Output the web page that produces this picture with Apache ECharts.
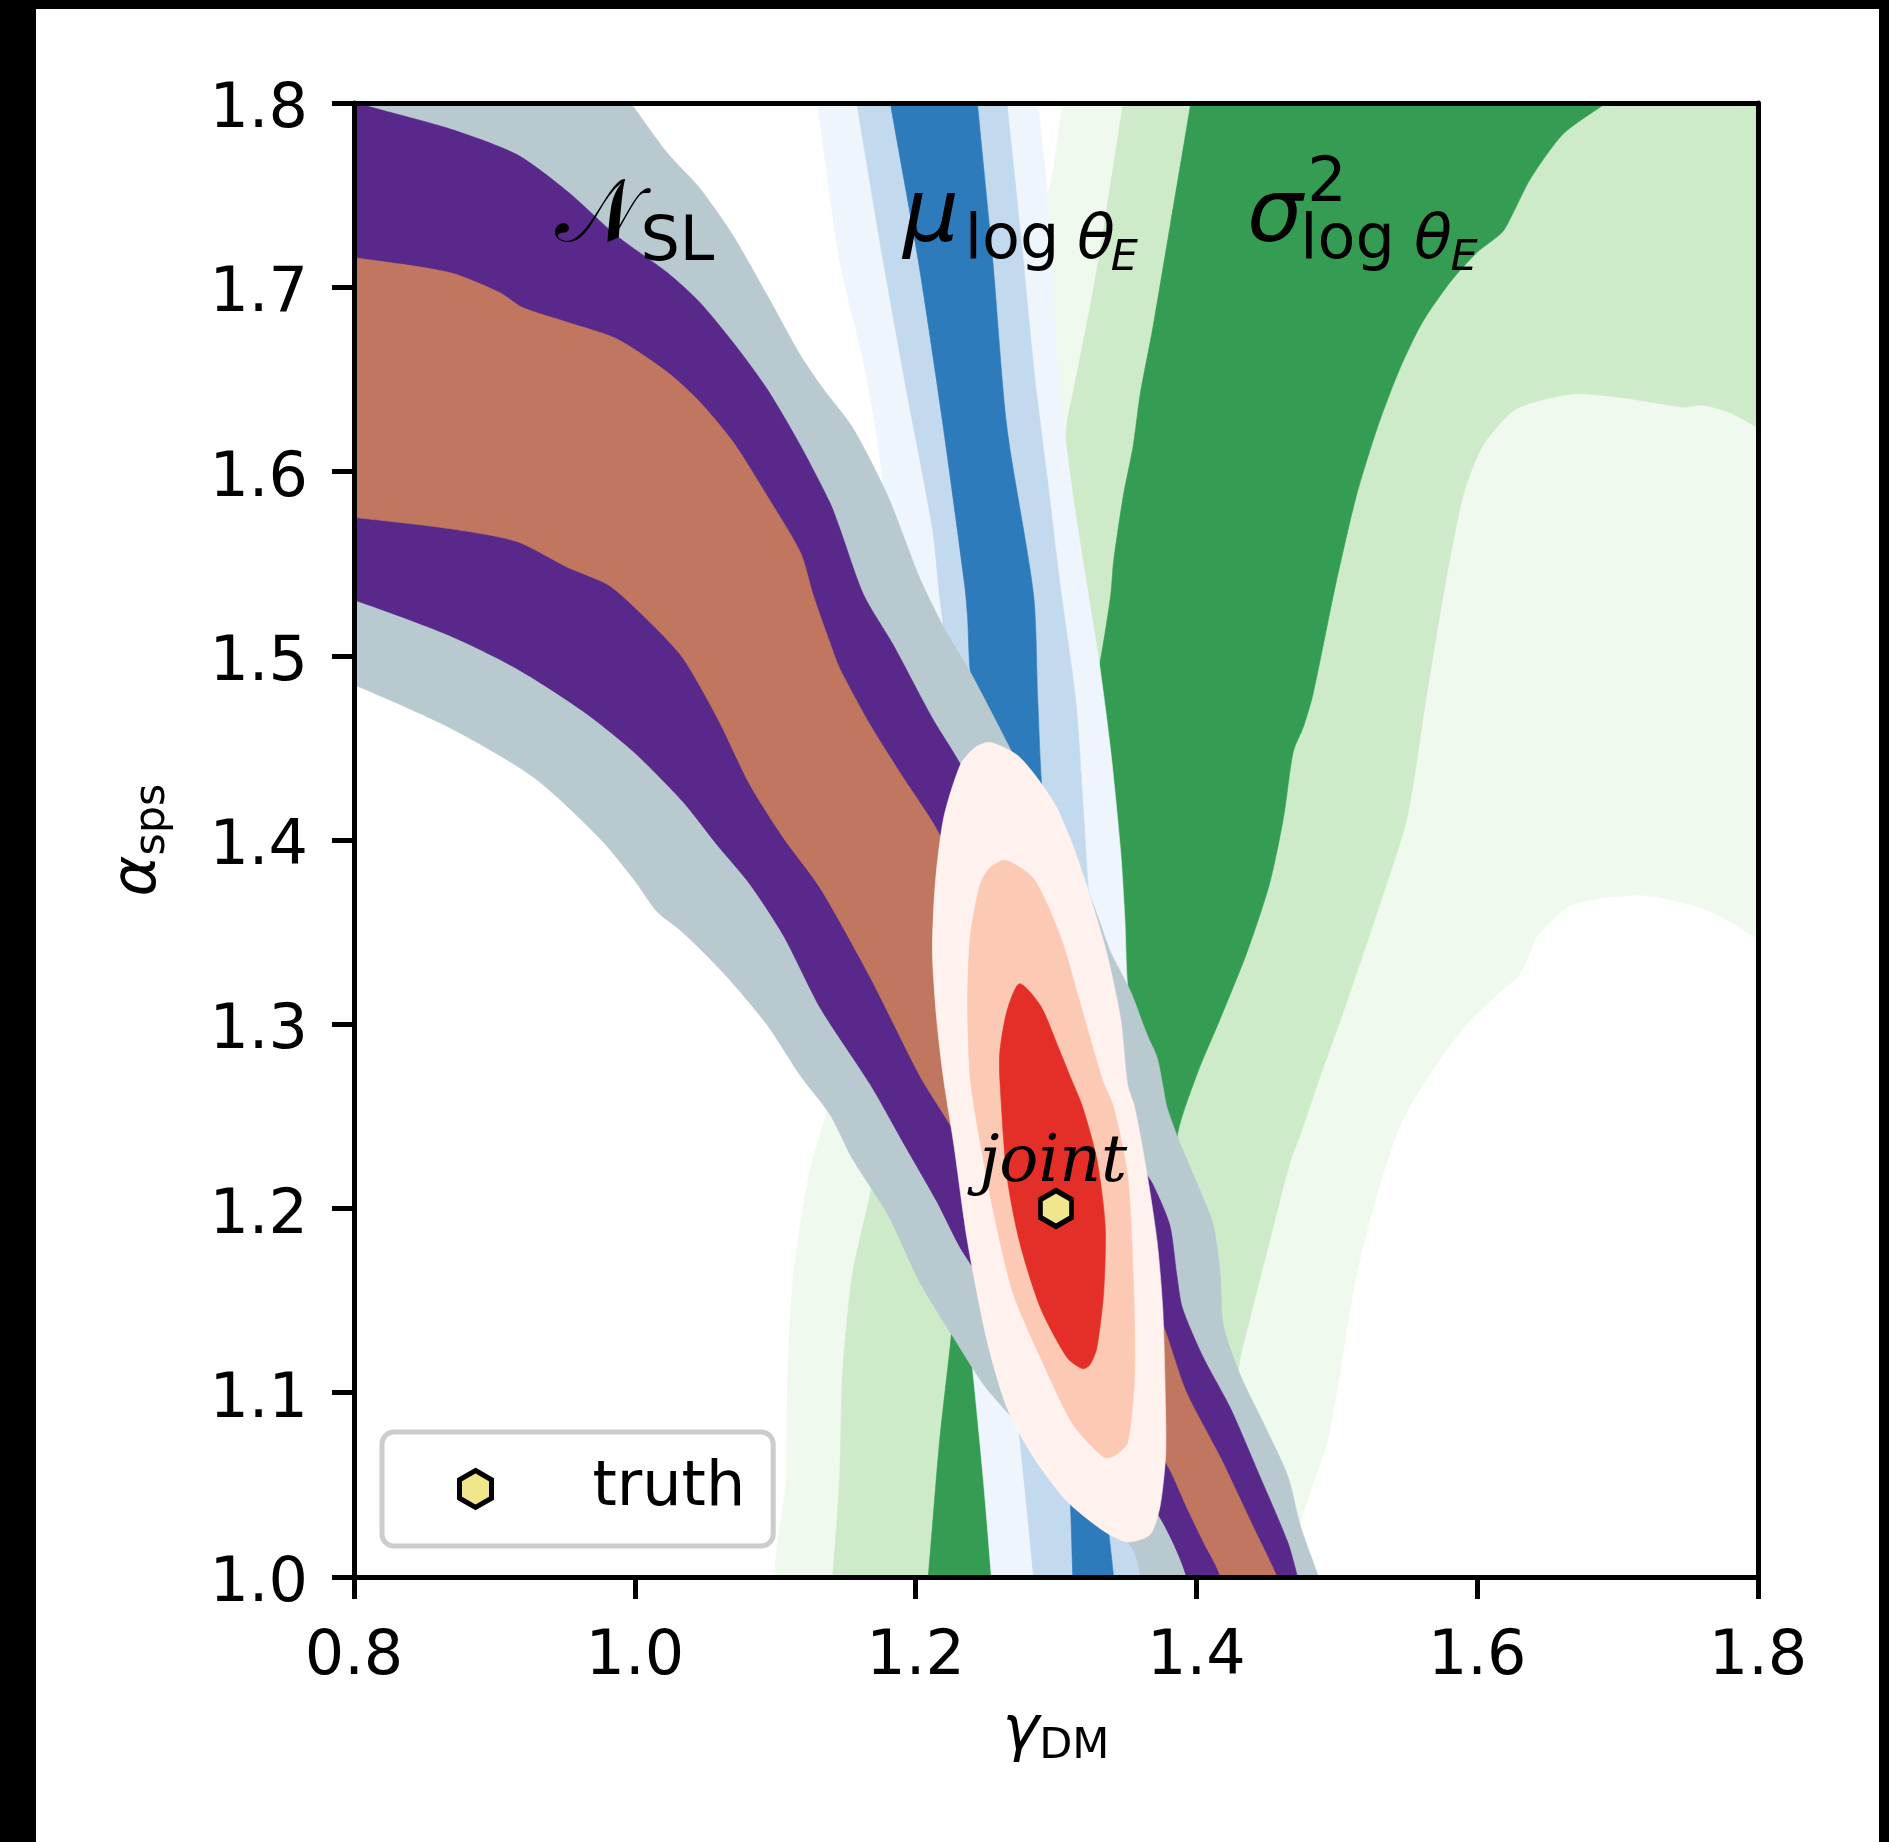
<!DOCTYPE html>
<html><head><meta charset="utf-8">
<script src="https://cdn.jsdelivr.net/npm/echarts@6/dist/echarts.min.js"></script>
<style>
html,body{margin:0;padding:0;background:#000;width:1889px;height:1842px;overflow:hidden;}
#chart{position:absolute;left:36px;top:9px;width:1843px;height:1833px;background:#fff;}
</style></head><body><div id="chart"></div>
<script>
// ---- axis ranges / ticks ----
const X_RANGE = [0.8, 1.8], X_STEP = 0.2;
const Y_RANGE = [1.0, 1.8], Y_STEP = 0.1;

// ---- sigma^2 log theta_E contours (greens) ----
const G1 = [[1.309,1.812],[1.305,1.800],[1.294,1.750],[1.260,1.693],[1.217,1.612],[1.189,1.530],[1.162,1.422],[1.149,1.340],[1.138,1.258],[1.124,1.218],[1.113,1.164],[1.109,1.110],[1.108,1.055],[1.108,0.988],
[1.470,0.988],[1.474,1.028],[1.481,1.046],[1.493,1.073],[1.502,1.110],[1.514,1.164],[1.529,1.209],[1.545,1.245],[1.561,1.267],[1.590,1.298],[1.614,1.316],[1.631,1.328],[1.643,1.348],[1.668,1.365],[1.718,1.370],[1.764,1.362],[1.799,1.347],[1.823,1.335],[1.823,1.812]];
const G2 = [[1.351,1.812],[1.348,1.800],[1.334,1.732],[1.326,1.696],[1.312,1.642],[1.308,1.627],[1.303,1.585],[1.289,1.503],[1.246,1.395],[1.189,1.286],[1.175,1.243],[1.168,1.209],[1.155,1.164],[1.148,1.110],[1.146,1.055],[1.141,1.000],[1.139,0.988],
[1.403,0.988],[1.431,1.118],[1.438,1.140],[1.452,1.182],[1.467,1.226],[1.474,1.240],[1.486,1.267],[1.507,1.312],[1.531,1.366],[1.550,1.412],[1.564,1.479],[1.577,1.538],[1.590,1.587],[1.604,1.614],[1.628,1.634],[1.668,1.642],[1.704,1.640],[1.747,1.635],[1.761,1.636],[1.780,1.632],[1.799,1.624],[1.823,1.612],[1.823,1.812]];
const G3 = [[1.398,1.812],[1.396,1.800],[1.381,1.732],[1.369,1.678],[1.360,1.642],[1.355,1.614],[1.348,1.587],[1.341,1.551],[1.339,1.533],[1.331,1.495],[1.310,1.422],[1.274,1.340],[1.242,1.232],[1.228,1.156],[1.225,1.128],[1.217,1.073],[1.209,1.000],[1.207,0.988],
[1.367,0.988],[1.388,1.150],[1.386,1.237],[1.400,1.272],[1.417,1.303],[1.436,1.339],[1.452,1.376],[1.462,1.412],[1.469,1.448],[1.476,1.461],[1.483,1.479],[1.499,1.538],[1.514,1.587],[1.529,1.624],[1.545,1.656],[1.561,1.681],[1.581,1.703],[1.600,1.719],[1.618,1.730],[1.626,1.741],[1.638,1.759],[1.661,1.783],[1.688,1.798],[1.716,1.812]];

// ---- mu log theta_E contours (blues) ----
const B1 = [[1.127,1.812],[1.130,1.800],[1.146,1.714],[1.163,1.659],[1.175,1.605],[1.241,1.110],[1.248,1.055],[1.254,1.000],[1.255,0.988],
[1.383,0.988],[1.374,1.150],[1.360,1.267],[1.351,1.321],[1.349,1.358],[1.346,1.394],[1.339,1.448],[1.331,1.495],[1.322,1.538],[1.312,1.587],[1.303,1.642],[1.298,1.696],[1.294,1.750],[1.287,1.800],[1.284,1.812]];
const B2 = [[1.155,1.812],[1.158,1.800],[1.177,1.714],[1.194,1.642],[1.212,1.569],[1.217,1.533],[1.219,1.521],[1.274,1.077],[1.284,1.000],[1.284,0.988],
[1.365,0.988],[1.356,1.150],[1.329,1.313],[1.323,1.373],[1.319,1.422],[1.314,1.476],[1.303,1.538],[1.294,1.595],[1.285,1.650],[1.276,1.720],[1.265,1.800],[1.263,1.812]];
const B3 = [[1.180,1.812],[1.182,1.800],[1.202,1.714],[1.219,1.628],[1.235,1.538],[1.237,1.521],[1.239,1.491],[1.303,1.096],[1.310,1.042],[1.312,1.000],[1.313,0.988],
[1.341,0.988],[1.341,1.000],[1.331,1.069],[1.290,1.428],[1.287,1.476],[1.284,1.533],[1.265,1.624],[1.255,1.714],[1.244,1.800],[1.243,1.812]];

// ---- N_SL contours ----
const N1 = [[0.762,1.823],[0.986,1.812],[0.999,1.798],[1.023,1.773],[1.046,1.754],[1.070,1.728],[1.094,1.696],[1.118,1.663],[1.135,1.644],[1.155,1.624],[1.180,1.587],[1.203,1.542],[1.221,1.514],[1.239,1.491],[1.265,1.453],[1.289,1.416],[1.310,1.389],[1.324,1.370],[1.339,1.339],[1.353,1.318],[1.365,1.294],[1.372,1.282],[1.376,1.267],[1.379,1.255],[1.388,1.236],[1.403,1.209],[1.412,1.191],[1.417,1.164],[1.419,1.137],[1.431,1.110],[1.448,1.083],[1.465,1.055],[1.474,1.028],[1.487,1.000],[1.492,0.988],
[1.356,0.988],[1.360,1.000],[1.353,1.017],[1.253,1.100],[1.227,1.130],[1.203,1.160],[1.180,1.197],[1.155,1.227],[1.139,1.251],[1.118,1.272],[1.094,1.300],[1.063,1.328],[1.034,1.350],[1.016,1.361],[0.999,1.379],[0.975,1.401],[0.928,1.434],[0.868,1.461],[0.801,1.484],[0.762,1.495]];
const N2 = [[0.762,1.810],[0.790,1.803],[0.811,1.798],[0.868,1.786],[0.916,1.772],[0.952,1.752],[0.987,1.728],[1.023,1.708],[1.046,1.692],[1.070,1.670],[1.094,1.645],[1.118,1.614],[1.139,1.583],[1.146,1.569],[1.163,1.533],[1.184,1.506],[1.212,1.466],[1.232,1.441],[1.274,1.378],[1.317,1.313],[1.346,1.259],[1.358,1.227],[1.369,1.213],[1.381,1.191],[1.386,1.164],[1.390,1.146],[1.405,1.119],[1.424,1.092],[1.445,1.055],[1.465,1.019],[1.472,1.000],[1.475,0.988],
[1.388,0.988],[1.393,1.000],[1.371,1.036],[1.296,1.107],[1.234,1.176],[1.215,1.204],[1.191,1.236],[1.168,1.267],[1.132,1.309],[1.106,1.348],[1.082,1.376],[1.059,1.397],[1.034,1.421],[0.999,1.448],[0.963,1.470],[0.916,1.493],[0.868,1.511],[0.801,1.530],[0.762,1.538]];
const N3 = [[0.762,1.720],[0.801,1.716],[0.868,1.708],[0.904,1.697],[0.920,1.689],[0.952,1.681],[0.987,1.672],[1.023,1.654],[1.046,1.638],[1.070,1.616],[1.094,1.587],[1.118,1.556],[1.127,1.533],[1.139,1.507],[1.146,1.493],[1.168,1.462],[1.191,1.434],[1.217,1.403],[1.296,1.270],[1.360,1.167],[1.372,1.146],[1.379,1.131],[1.393,1.100],[1.417,1.065],[1.440,1.028],[1.457,1.001],[1.463,0.988],
[1.413,0.988],[1.417,1.000],[1.405,1.019],[1.393,1.038],[1.379,1.061],[1.303,1.150],[1.220,1.251],[1.203,1.272],[1.168,1.325],[1.132,1.374],[1.106,1.401],[1.082,1.430],[1.059,1.466],[1.034,1.499],[1.011,1.518],[0.982,1.538],[0.952,1.548],[0.916,1.562],[0.868,1.569],[0.801,1.575],[0.762,1.578]];

// ---- joint contours (reds) ----
const J1 = [[1.253,1.453],[1.274,1.445],[1.298,1.421],[1.312,1.397],[1.324,1.370],[1.336,1.339],[1.346,1.303],[1.351,1.267],[1.356,1.255],[1.365,1.218],[1.372,1.182],[1.376,1.146],[1.378,1.092],[1.378,1.065],[1.374,1.038],[1.367,1.023],[1.351,1.019],[1.334,1.025],[1.308,1.041],[1.284,1.065],[1.265,1.092],[1.251,1.128],[1.237,1.182],[1.227,1.236],[1.220,1.270],[1.215,1.303],[1.212,1.339],[1.214,1.376],[1.220,1.412],[1.232,1.441],[1.242,1.450]];
const J2 = [[1.264,1.389],[1.284,1.379],[1.303,1.348],[1.317,1.312],[1.333,1.270],[1.341,1.255],[1.351,1.218],[1.355,1.164],[1.356,1.110],[1.351,1.073],[1.342,1.066],[1.334,1.065],[1.312,1.083],[1.289,1.119],[1.269,1.155],[1.255,1.200],[1.246,1.236],[1.239,1.270],[1.237,1.312],[1.239,1.348],[1.246,1.376],[1.253,1.385]];
const J3 = [[1.274,1.322],[1.289,1.310],[1.303,1.285],[1.311,1.270],[1.319,1.255],[1.329,1.227],[1.335,1.191],[1.334,1.155],[1.329,1.124],[1.324,1.115],[1.319,1.113],[1.308,1.119],[1.289,1.146],[1.274,1.182],[1.265,1.218],[1.260,1.270],[1.260,1.285],[1.265,1.307]];

// ---- truth point ----
const TRUTH = [[1.3, 1.2]];

// ---- text annotations: [x, y (baseline), text, role] ----
const ANNOT = [
  [0.943,1.722,'𝒩','cal'],
  [1.004,1.713,'SL','sub'],
  [1.191,1.722,'μ','main'],
  [1.235,1.714,'log','sub'],
  [1.315,1.714,'θ','subIt'],
  [1.339,1.708,'E','subsub'],
  [1.436,1.722,'σ','main'],
  [1.479,1.745,'2','sub'],
  [1.474,1.714,'log','sub'],
  [1.555,1.714,'θ','subIt'],
  [1.581,1.708,'E','subsub'],
  [1.298,1.213,'joint','joint']
];

const FONT = 'DejaVu Sans';
const ROLES = {
  cal:{size:88, style:'normal', family:FONT},
  main:{size:88, style:'italic', family:FONT},
  sub:{size:62, style:'normal', family:FONT},
  subIt:{size:62, style:'italic', family:FONT},
  subsub:{size:43, style:'italic', family:FONT},
  joint:{size:65, style:'italic', family:'DejaVu Serif', align:'center'}
};
const BASE = 0.32;

const LAYERS = [
  ['G1', G1, '#f0f9ed'], ['G2', G2, '#cdebc8'], ['G3', G3, '#349d53'],
  ['B1', B1, '#eef5fc'], ['B2', B2, '#c3daee'], ['B3', B3, '#2d7bba'],
  ['N1', N1, '#b8c9d0'], ['N2', N2, '#58288a'], ['N3', N3, '#c0765f'],
  ['J1', J1, '#fff2ee'], ['J2', J2, '#fcc9b5'], ['J3', J3, '#e32f28']
];
const HEX = 'path://M0,-10L8.66,-5L8.66,5L0,10L-8.66,5L-8.66,-5Z';

const series = LAYERS.map((l, i) => ({
  name: l[0], type: 'custom', coordinateSystem: 'cartesian2d', clip: true, silent: true, z: 2 + i,
  data: l[1],
  renderItem: (params, api) => {
    if (params.dataIndex !== 0) return null;
    return {type: 'polygon', shape: {points: l[1].map(p => api.coord(p)), smooth: 0.25},
            style: {fill: l[2], stroke: l[2], lineWidth: 0.6}};
  }
}));
series.push({
  name: 'truth', type: 'scatter', data: TRUTH, symbol: HEX, symbolSize: [31, 36], z: 20,
  itemStyle: {color: '#f0e68c', borderColor: '#000', borderWidth: 5, opacity: 1}
});
series.push({
  name: 'annot', type: 'custom', coordinateSystem: 'cartesian2d', clip: false, silent: true, z: 21,
  data: ANNOT.map(a => [a[0], a[1]]),
  renderItem: (params, api) => {
    const a = ANNOT[params.dataIndex];
    const r = ROLES[a[3]];
    const p = api.coord([a[0], a[1]]);
    return {type: 'text', x: p[0], y: p[1] - BASE * r.size,
      style: {text: a[2], fontSize: r.size, fontFamily: r.family, fontStyle: r.style, fill: '#000',
              align: r.align || 'left', verticalAlign: 'middle'}};
  }
});

const axisLine = {onZero: false, lineStyle: {color: '#000', width: 5}};
const richX = {
  g: {fontSize: 62, fontStyle: 'italic', fontFamily: FONT, color: '#000', lineHeight: 62, padding: [0, 0, 8, 0]},
  s: {fontSize: 43, fontFamily: FONT, color: '#000', lineHeight: 43, verticalAlign: 'bottom'}
};

const option = {
  animation: false,
  backgroundColor: '#fff',
  grid: {left: 318, top: 94, width: 1404, height: 1474, containLabel: false},
  xAxis: [{
    type: 'value', min: X_RANGE[0], max: X_RANGE[1], interval: X_STEP, position: 'bottom', z: 30,
    axisLine, axisTick: {length: 22, lineStyle: {color: '#000', width: 5}},
    axisLabel: {margin: 50, fontSize: 62, color: '#000', fontFamily: FONT, showMinLabel: true, showMaxLabel: true,
                formatter: v => v.toFixed(1)},
    splitLine: {show: false},
    name: '{g|γ}{s|DM}', nameLocation: 'middle', nameGap: 129, nameTextStyle: {rich: richX}
  }, {
    type: 'value', min: X_RANGE[0], max: X_RANGE[1], position: 'top', z: 30,
    axisLine, axisTick: {show: false}, axisLabel: {show: false}, splitLine: {show: false}
  }],
  yAxis: [{
    type: 'value', min: Y_RANGE[0], max: Y_RANGE[1], interval: Y_STEP, position: 'left', z: 30,
    axisLine, axisTick: {length: 22, lineStyle: {color: '#000', width: 5}},
    axisLabel: {margin: 46, showMinLabel: true, showMaxLabel: true,
                formatter: v => '{t|' + v.toFixed(1) + '}',
                rich: {t: {fontSize: 62, color: '#000', fontFamily: FONT, lineHeight: 62, padding: [16, 0, 0, 0]}}},
    splitLine: {show: false},
    name: '{g|α}{s|sps}', nameLocation: 'middle', nameGap: 180, nameTextStyle: {rich: richX}
  }, {
    type: 'value', min: Y_RANGE[0], max: Y_RANGE[1], position: 'right', z: 30,
    axisLine, axisTick: {show: false}, axisLabel: {show: false}, splitLine: {show: false}
  }],
  legend: {
    left: 346, top: 1423, orient: 'horizontal', z: 40, selectedMode: false,
    padding: [26, 28, 26, 75], itemWidth: 32, itemHeight: 37, itemGap: 0,
    borderColor: '#cccccc', borderWidth: 5, borderRadius: 12, backgroundColor: '#fff',
    itemStyle: {borderColor: '#000', borderWidth: 5, opacity: 1},
    textStyle: {fontSize: 62, color: '#000', fontFamily: FONT, padding: [0, 0, 0, 96]},
    data: [{name: 'truth', icon: HEX}]
  },
  series
};
const chart = echarts.init(document.getElementById('chart'));
chart.setOption(option);
</script>
</body></html>
